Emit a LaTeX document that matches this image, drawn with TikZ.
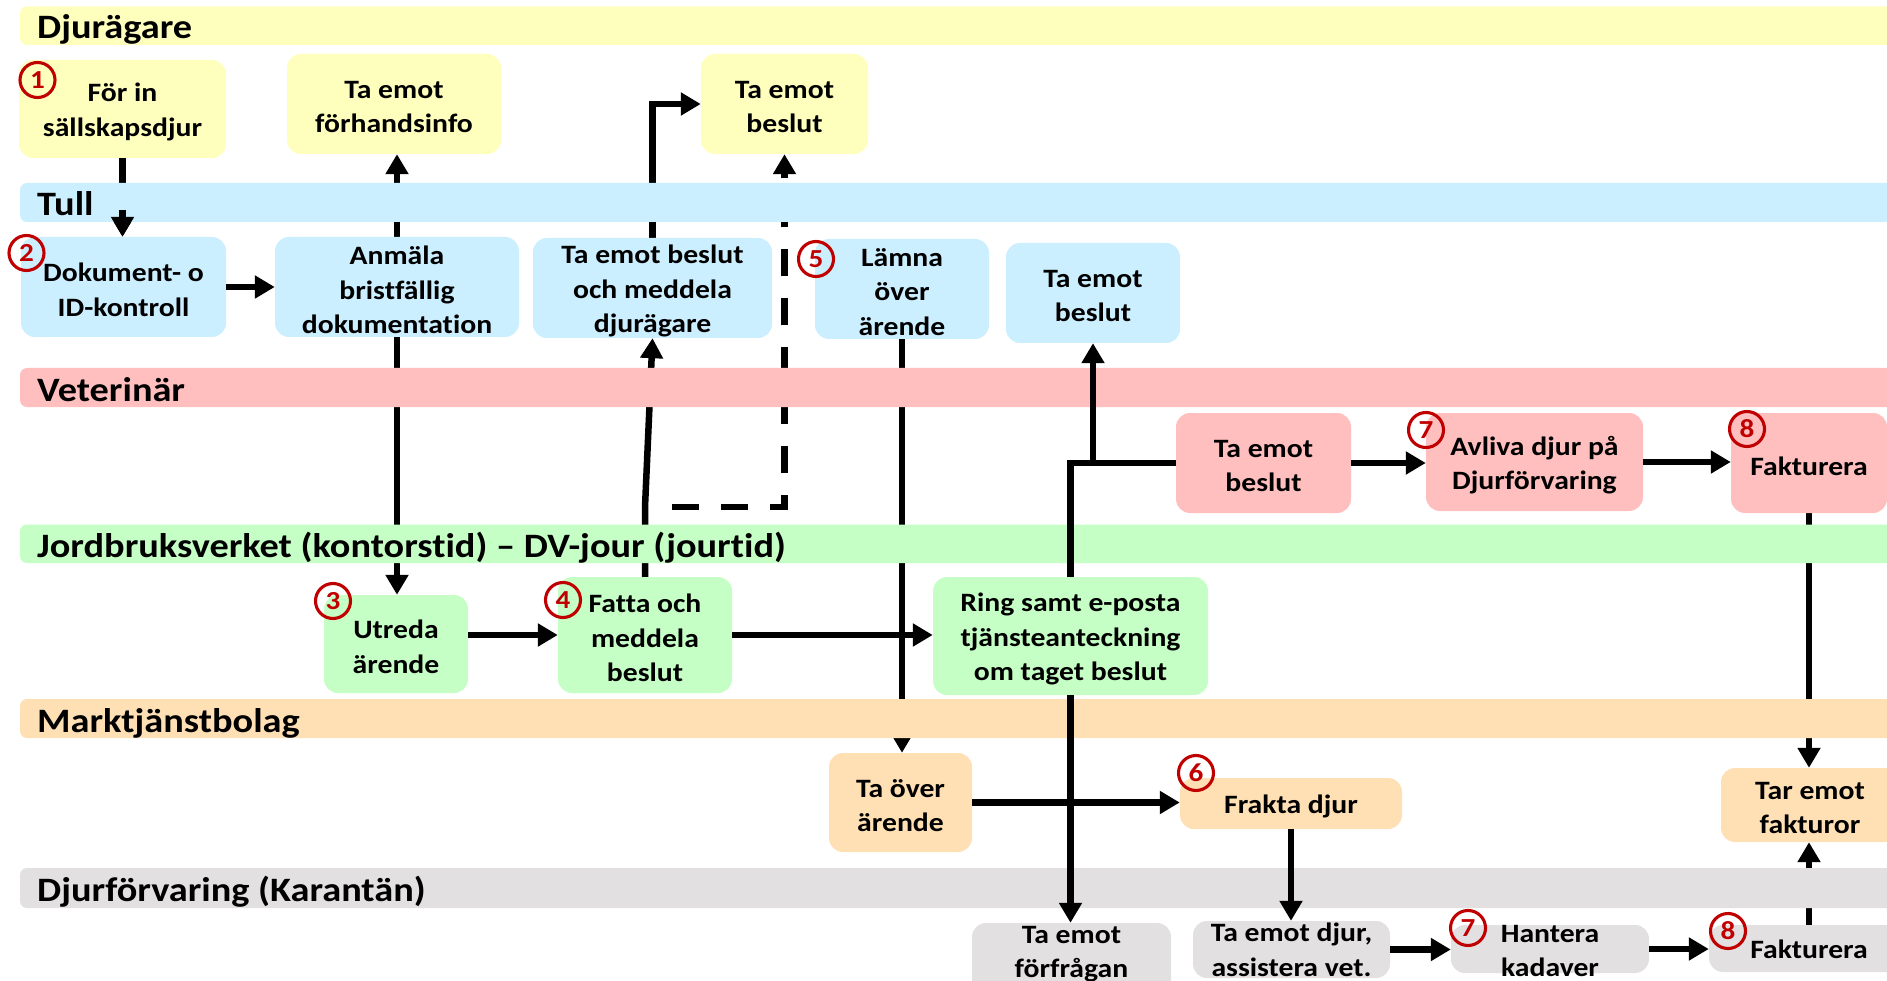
\documentclass[tikz,border=0pt]{standalone}
\usepackage{fontspec}
\setmainfont{Carlito}[FakeStretch=1.12, Ligatures=NoCommon]
\usetikzlibrary{arrows.meta}
\definecolor{cyel}{HTML}{FFFFBD}
\definecolor{cblu}{HTML}{CCEFFF}
\definecolor{cpnk}{HTML}{FFBFBF}
\definecolor{cgrn}{HTML}{C6FFC6}
\definecolor{corg}{HTML}{FFE0B5}
\definecolor{cgry}{HTML}{E3E0E1}
\definecolor{cred}{HTML}{C00000}
\pgfdeclarelayer{bg}
\pgfdeclarelayer{under}
\pgfdeclarelayer{lanes}
\pgfsetlayers{bg,under,lanes,main}
\tikzset{
  lane/.style={fill=#1, draw=none, rounded corners=7pt},
  lanelabel/.style={anchor=base west, inner sep=0pt, font=\fontsize{34.2}{36}\selectfont\bfseries},
  box/.style={fill=#1, draw=none, rounded corners=14pt, inner sep=0pt},
  boxtext/.style={inner sep=0pt, align=center, font=\fontsize{26.5}{34.5}\selectfont\bfseries},
  badge/.style={circle, draw=cred, line width=3.1pt, text=cred, minimum size=35pt, inner sep=0pt,
                font=\fontsize{26}{26}\selectfont\bfseries},
  conn/.style={line width=6.5pt, -{Triangle[length=20pt,width=22pt]}},
  plainline/.style={line width=6.5pt},
  dashconn/.style={line width=6.5pt, dash pattern=on 27pt off 22pt, -{Triangle[length=20pt,width=22pt]}},
}
% #1 name, #2 colour, #3 width, #4 height, #5 centre, #6 text
\newcommand\mybox[6]{%
  \node[box=#2, minimum width=#3pt, minimum height=#4pt] (#1) at (#5) {};
  \node[boxtext] (#1-t) at ([yshift=-3pt]#1.center) {#6};}
\begin{document}
\begin{tikzpicture}[x=1pt,y=-1pt]
\useasboundingbox (0,0) rectangle (1887,981);
\begin{pgfonlayer}{bg}
  \fill[white] (0,0) rectangle (1887,981);
\end{pgfonlayer}
\clip (0,0) rectangle (1887,981);

% ---------- lanes ----------
\begin{pgfonlayer}{lanes}
  \clip (0,0) rectangle (1887,981);
  \fill[lane=cyel] (20,6.5) rectangle (1900,45);
  \fill[lane=cblu] (20,183) rectangle (1900,222);
  \fill[lane=cpnk] (20,368) rectangle (1900,407);
  \fill[lane=cgrn] (20,524.5) rectangle (1900,563);
  \fill[lane=corg] (20,699) rectangle (1900,738);
  \fill[lane=cgry] (20,868) rectangle (1900,908);
\end{pgfonlayer}
\node[lanelabel] (l1) at (37,38.5) {Djurägare};
\node[lanelabel] (l2) at (37,215.5) {Tull};
\node[lanelabel] (l3) at (37,401) {Veterinär};
\node[lanelabel] (l4) at (37,557.5) {Jordbruksverket (kontorstid) – DV-jour (jourtid)};
\node[lanelabel] (l5) at (37,732) {Marktjänstbolag};
\node[lanelabel] (l6) at (37,901) {Djurförvaring (Karantän)};

% ---------- boxes ----------
% Djurägare
\mybox{b1}{cyel}{207}{98}{122.5,109}{För in\\sällskapsdjur}
\mybox{bfi}{cyel}{214}{100}{394,104}{Ta emot\\förhandsinfo}
\mybox{bdb}{cyel}{167}{100}{784.5,104}{Ta emot\\beslut}
% Tull
\mybox{b2}{cblu}{205}{100}{123.5,287}{Dokument- o\\ID-kontroll}
\mybox{banm}{cblu}{244}{100}{397,287}{Anmäla\\bristfällig\\dokumentation}
\mybox{btm}{cblu}{239}{100}{652.5,288}{Ta emot beslut\\och meddela\\djurägare}
\mybox{blam}{cblu}{174}{100}{902,289}{Lämna\\över\\ärende}
\mybox{btb}{cblu}{174}{100}{1093,293}{Ta emot\\beslut}
% Veterinär
\mybox{bvb}{cpnk}{175}{100}{1263.5,463}{Ta emot\\beslut}
\mybox{bavl}{cpnk}{217}{98}{1534.5,462}{Avliva djur på\\Djurförvaring}
\mybox{bfv}{cpnk}{156}{100}{1809,463}{Fakturera}
% Jordbruksverket
\mybox{butr}{cgrn}{144}{98}{396,644}{Utreda\\ärende}
\mybox{bfat}{cgrn}{174}{116}{645,635}{Fatta och\\meddela\\beslut}
\mybox{bring}{cgrn}{275}{118}{1070.5,636}{Ring samt e-posta\\tjänsteanteckning\\om taget beslut}
% Marktjänstbolag
\mybox{btov}{corg}{143}{99}{900.5,802.5}{Ta över\\ärende}
\mybox{bfra}{corg}{222}{51}{1291,803.5}{Frakta djur}
\mybox{btef}{corg}{178}{74}{1810,805}{Tar emot\\fakturor}
% Djurförvaring
\node[box=cgry, minimum width=199pt, minimum height=70pt] (bfor) at (1071.5,958) {};
\node[boxtext] (tfor) at (1071.5,954) {Ta emot\\förfrågan};
\node[box=cgry, minimum width=197pt, minimum height=57pt] (bdjur) at (1291.5,949.5) {};
\node[boxtext] (tdjur) at (1291.5,950) {Ta emot djur,\\assistera vet.};
\node[box=cgry, minimum width=198pt, minimum height=48pt] (bhan) at (1550,949) {};
\node[boxtext] (than) at (1550,951) {Hantera\\kadaver};
\node[box=cgry, minimum width=200pt, minimum height=47pt] (bfb) at (1809,948.5) {};
\node[boxtext] (tfb) at (1809,949.5) {Fakturera};

% ---------- connectors under the lanes ----------
\coordinate (s12) at (122.5,210);
\coordinate (fj) at (645,507);
\coordinate (dstart) at (672,507);
\begin{pgfonlayer}{under}
  \draw[conn] (b1.south) -- (b1.south |- b2.north);
  \draw[conn] (banm.north) -- (banm.north |- bfi.south);
  \draw[conn] (banm.south) -- (banm.south |- butr.north);
  \draw[conn] (bfat.north) -- (fj) -- (btm.south);
  \draw[conn] (btm.north) -- (btm.north |- bdb.west) -- (bdb.west);
  \draw[dashconn] (dstart) -- (dstart -| bdb.south) -- (bdb.south);
  \draw[conn] (blam.south) -- (blam.south |- btov.north);
  \draw[conn] (bfv.south) -- (bfv.south |- btef.north);
  \draw[conn] (bfb.north) -- (bfb.north |- btef.south);
\end{pgfonlayer}

% ---------- connectors on top ----------
\draw[conn] (s12) -- (b1.south |- b2.north);
\draw[conn] (b2.east) -- (b2.east -| banm.west);
\draw[conn] (bfat.west -| butr.east) -- (bfat.west);
\draw[conn] (bfat.east) -- (bfat.east -| bring.west);
\draw[conn] (bvb.east) -- (bvb.east -| bavl.west);
\draw[conn] (bavl.east) -- (bavl.east -| bfv.west);
\draw[conn] (btov.east) -- (btov.east -| bfra.west);
\draw[conn] (bdjur.east) -- (bdjur.east -| bhan.west);
\draw[conn] (bhan.east) -- (bhan.east -| bfb.west);
\coordinate (rj) at (bring.north |- bvb.west);
\draw[plainline] (bring.north) -- (rj) -- (bvb.west);
\draw[conn] (rj -| btb.south) -- (btb.south);
\draw[conn] (bring.south) -- (bring.south |- bfor.north);
\draw[conn] (bfra.south) -- (bfra.south |- bdjur.north);

% ---------- badges ----------
\node[badge] (n1) at (37.5,80) {1};
\node[badge] (n2) at (26.5,253) {2};
\node[badge] (n3) at (333,601) {3};
\node[badge] (n4) at (563,600) {4};
\node[badge] (n5) at (816,259) {5};
\node[badge] (n6) at (1196,773) {6};
\node[badge] (n7a) at (1426,430) {7};
\node[badge] (n8a) at (1747,429) {8};
\node[badge] (n7b) at (1468,928) {7};
\node[badge] (n8b) at (1728,931) {8};
\end{tikzpicture}
\end{document}
